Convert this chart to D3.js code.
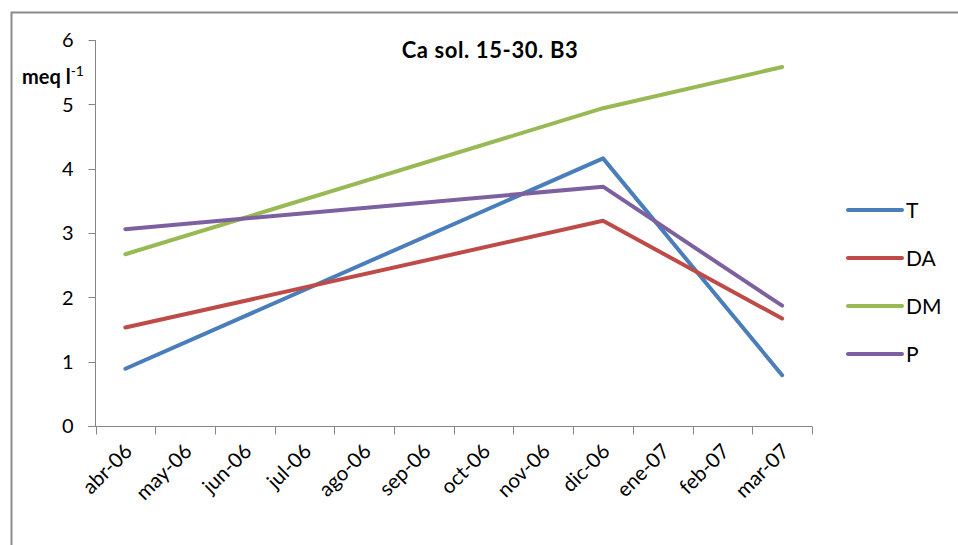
<!DOCTYPE html>
<html>
<head>
<meta charset="utf-8">
<script src="https://cdn.jsdelivr.net/npm/d3@7"></script>
<style>
  body { margin: 0; background: #fff; }
  svg { display: block; font-family: Lato, "Open Sans", sans-serif; }
</style>
</head>
<body>
<svg id="chart" width="958" height="545"></svg>
<script>
// categories and series
const months = ["abr-06", "may-06", "jun-06", "jul-06", "ago-06", "sep-06",
  "oct-06", "nov-06", "dic-06", "ene-07", "feb-07", "mar-07"]
const sampleMonths = ["abr-06", "dic-06", "mar-07"]
const seriesT = [0.89, 4.16, 0.79]
const seriesDA = [1.53, 3.19, 1.67]
const seriesDM = [2.67, 4.94, 5.58]
const seriesP = [3.06, 3.72, 1.87]
const yTicks = [0, 1, 2, 3, 4, 5, 6]

const series = [
  {name: "T", values: seriesT, color: "#4a7ebb"},
  {name: "DA", values: seriesDA, color: "#be4b48"},
  {name: "DM", values: seriesDM, color: "#98b954"},
  {name: "P", values: seriesP, color: "#7d60a0"}
]

const svg = d3.select("#chart")
const axisColor = "#868686"

// outer chart frame (left + top edge visible)
svg.append("path")
  .attr("d", "M11.5,545 V12.5 H958")
  .attr("fill", "none")
  .attr("stroke", "#8c8c8c")
  .attr("stroke-width", 2)

const x = d3.scaleBand().domain(months).range([95.5, 812]).paddingInner(0).paddingOuter(0)
const y = d3.scaleLinear().domain([0, 6]).range([426, 40])

// y axis
const yAxis = svg.append("g").attr("transform", "translate(95.5,0)")
yAxis.append("line").attr("y1", y(6)).attr("y2", y(0)).attr("stroke", axisColor)
yAxis.selectAll(".yt").data(yTicks).join("line")
  .attr("x1", -7).attr("x2", 0)
  .attr("y1", d => Math.round(y(d)) + 0.5).attr("y2", d => Math.round(y(d)) + 0.5)
  .attr("stroke", axisColor)
yAxis.selectAll(".yl").data(yTicks).join("text")
  .attr("x", -22).attr("y", d => y(d))
  .attr("dy", "0.36em")
  .attr("text-anchor", "end")
  .attr("font-size", 20)
  .attr("fill", "#000")
  .text(d => d)

// x axis
const xAxis = svg.append("g").attr("transform", `translate(0,${Math.round(y(0)) + 0.5})`)
xAxis.append("line").attr("x1", 88).attr("x2", 812).attr("stroke", axisColor)
const bounds = months.map(m => x(m)).concat([x.range()[1]])
xAxis.selectAll(".xt").data(bounds).join("line")
  .attr("x1", d => Math.round(d) + 0.5).attr("x2", d => Math.round(d) + 0.5)
  .attr("y1", 0).attr("y2", 8)
  .attr("stroke", axisColor)
xAxis.selectAll(".xl").data(months).join("text")
  .attr("transform", d => `translate(${x(d) + x.bandwidth() / 2 - 2},16) rotate(-45)`)
  .attr("text-anchor", "end")
  .attr("dy", "0.7em")
  .attr("font-size", 20.5)
  .attr("fill", "#000")
  .text(d => d)

// lines
const line = d3.line()
  .x((d, i) => x(sampleMonths[i]) + x.bandwidth() / 2)
  .y(d => y(d))

svg.append("g").selectAll("path").data(series).join("path")
  .attr("d", d => line(d.values))
  .attr("fill", "none")
  .attr("stroke", d => d.color)
  .attr("stroke-width", 4)
  .attr("stroke-linejoin", "round")
  .attr("stroke-linecap", "round")

// title
svg.append("text")
  .attr("x", 490).attr("y", 58)
  .attr("text-anchor", "middle")
  .attr("font-size", 22)
  .attr("font-weight", "bold")
  .attr("letter-spacing", 0.6)
  .text("Ca sol. 15-30. B3")

// y label
const yl = svg.append("text")
  .attr("x", 22).attr("y", 84)
  .attr("font-size", 20)
  .attr("font-weight", "bold")
yl.append("tspan").text("meq l")
yl.append("tspan").attr("dy", -8).attr("font-size", 14).attr("font-weight", "normal").text("-1")

// legend
const legendY = d3.scalePoint().domain(series.map(d => d.name)).range([210, 354])
const legend = svg.append("g").selectAll("g").data(series).join("g")
  .attr("transform", d => `translate(0,${legendY(d.name)})`)
legend.append("line")
  .attr("x1", 848).attr("x2", 902)
  .attr("stroke", d => d.color)
  .attr("stroke-width", 4)
  .attr("stroke-linecap", "round")
legend.append("text")
  .attr("x", 906).attr("dy", "0.36em")
  .attr("font-size", 21)
  .text(d => d.name)
</script>
</body>
</html>
